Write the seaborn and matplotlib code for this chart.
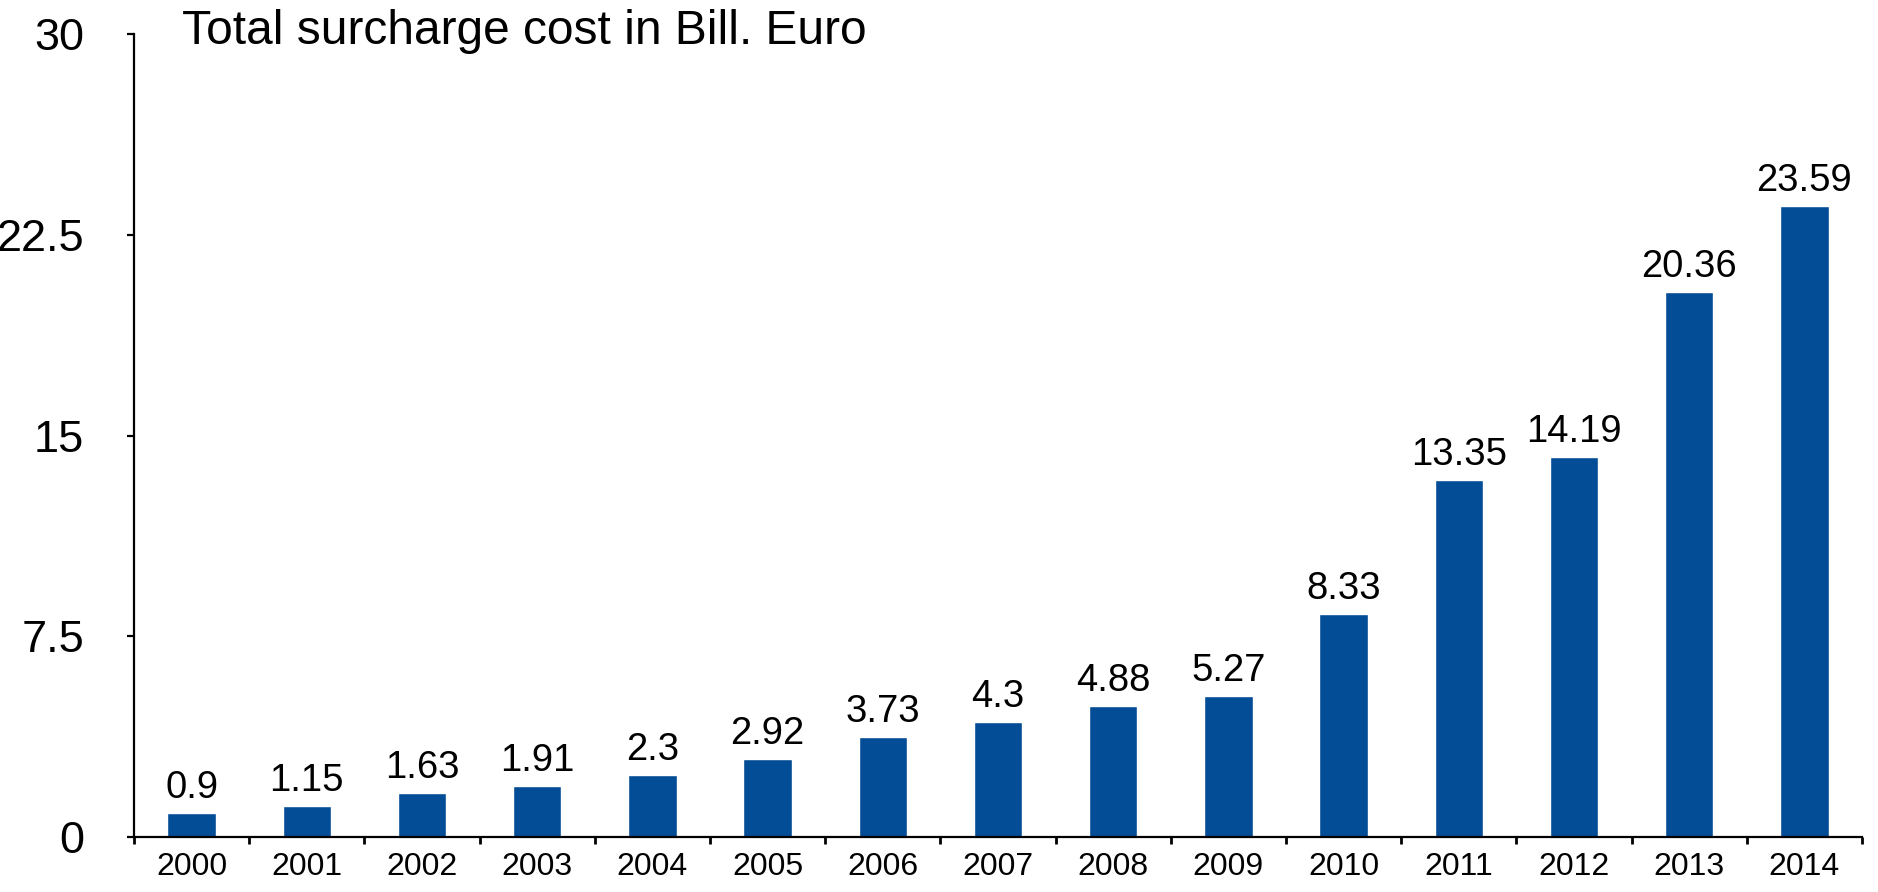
import matplotlib
matplotlib.use("Agg")
import matplotlib.pyplot as plt
from matplotlib.ticker import FixedLocator, NullFormatter
import seaborn as sns
import pandas as pd

years = ["2000", "2001", "2002", "2003", "2004", "2005", "2006", "2007",
         "2008", "2009", "2010", "2011", "2012", "2013", "2014"]
surcharge = [0.9, 1.15, 1.63, 1.91, 2.3, 2.92, 3.73, 4.3,
             4.88, 5.27, 8.33, 13.35, 14.19, 20.36, 23.59]
y_ticks = [0, 7.5, 15, 22.5, 30]
y_tick_labels = ["0", "7.5", "15", "22.5", "30"]
title = "Total surcharge cost in Bill. Euro"

sns.set_theme(style="white")
plt.rcParams["font.family"] = ["Liberation Sans", "DejaVu Sans"]

df = pd.DataFrame({"year": years, "cost": surcharge})

fig = plt.figure(figsize=(18.78, 8.92), dpi=100)
ax = fig.add_axes([134 / 1878, 1 - 837 / 892, (1862 - 134) / 1878, (837 - 34) / 892])

sns.barplot(data=df, x="year", y="cost", color="#034C96", saturation=1,
            width=0.42, ax=ax)

ax.set_xlim(-0.5, len(years) - 0.5)
ax.set_ylim(0, 30)
ax.set_xlabel("")
ax.set_ylabel("")

# value labels above each bar
for container in ax.containers:
    ax.bar_label(container, labels=[f"{v:g}" for v in surcharge],
                 padding=5, fontsize=27.5, color="black")

# y axis
ax.set_yticks(y_ticks)
ax.set_yticklabels(y_tick_labels, fontsize=32.5)
ax.tick_params(axis="y", direction="out", length=5, width=1.6, pad=31,
               left=True, color="black", labelcolor="black")

# x axis: labels centred on bars, tick marks on category boundaries
ax.tick_params(axis="x", which="major", length=0, pad=11, labelsize=23,
               labelcolor="black")
ax.xaxis.set_minor_locator(FixedLocator([i - 0.5 for i in range(len(years) + 1)]))
ax.xaxis.set_minor_formatter(NullFormatter())
ax.tick_params(axis="x", which="minor", direction="out", length=5, width=2,
               bottom=True, color="black")

for side in ["top", "right"]:
    ax.spines[side].set_visible(False)
for side in ["left", "bottom"]:
    ax.spines[side].set_color("black")
    ax.spines[side].set_linewidth(1.6)

fig.text(182 / 1878, 1 - 44 / 892, title, fontsize=34.5, color="black",
         ha="left", va="baseline")

fig.savefig("out.png", dpi=100, facecolor="white")
